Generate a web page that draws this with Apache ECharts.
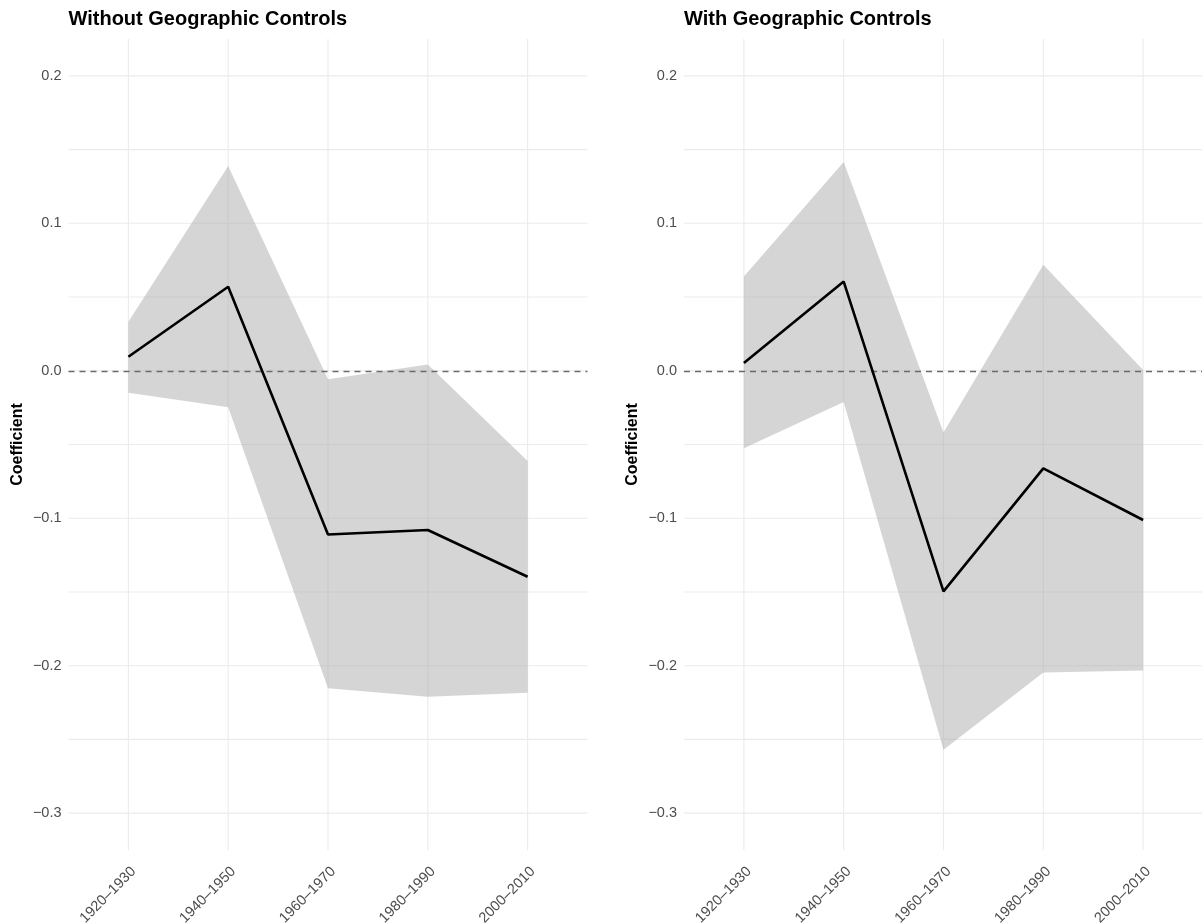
<!DOCTYPE html>
<html>
<head>
<meta charset="utf-8">
<script src="https://cdn.jsdelivr.net/npm/echarts@6/dist/echarts.min.js"></script>
<style>
  html, body { margin: 0; padding: 0; background: #fff; }
  #canvas { width: 1202px; height: 923px; }
</style>
</head>
<body>
<div id="canvas"></div>
<script>
const periods = ["1920–1930", "1940–1950", "1960–1970", "1980–1990", "2000–2010"];

// Without geographic controls
const estNoGeo = [0.0095, 0.057, -0.111, -0.108, -0.1397];
const lowNoGeo = [-0.0149, -0.0248, -0.2153, -0.221, -0.2183];
const highNoGeo = [0.0332, 0.1388, -0.0058, 0.0043, -0.0612];

// With geographic controls
const estGeo = [0.0052, 0.0605, -0.1496, -0.0662, -0.1012];
const lowGeo = [-0.0526, -0.0212, -0.257, -0.2046, -0.2033];
const highGeo = [0.0639, 0.1415, -0.0418, 0.0719, 0.0005];

const yGridTicks = [-0.3, -0.25, -0.2, -0.15, -0.1, -0.05, 0, 0.05, 0.1, 0.15, 0.2];
const panelTitles = ["Without Geographic Controls", "With Geographic Controls"];

const font = "'Liberation Sans', Arial, Helvetica, sans-serif";
const gridColor = "#ebebeb";

const fmtY = (v) => {
  if (Math.abs(v * 10 - Math.round(v * 10)) > 1e-6) return "";
  const s = Math.abs(v).toFixed(1);
  return v < -1e-9 ? "\u2212" + s : s;
};

const panels = [
  { left: 68.5, est: estNoGeo, low: lowNoGeo, high: highNoGeo },
  { left: 684, est: estGeo, low: lowGeo, high: highGeo }
];

const myChart = window.echarts.init(document.querySelector("#canvas"), null, { renderer: "canvas" });

const option = {
  animation: false,
  backgroundColor: "#fff",
  title: panels.map((p, i) => ({
    text: panelTitles[i],
    left: p.left,
    top: 9,
    padding: 0,
    textStyle: { fontFamily: font, fontSize: 20, fontWeight: "bold", color: "#000" }
  })),
  grid: panels.map(p => ({
    left: p.left, width: 519, top: 39, height: 811,
    containLabel: false,
    outerBoundsMode: "none"
  })),
  xAxis: panels.map((p, i) => ({
    type: "value",
    gridIndex: i,
    min: -0.6,
    max: 4.6,
    axisLine: { show: false },
    axisTick: { show: false },
    splitLine: { show: false },
    axisLabel: {
      customValues: [0, 1, 2, 3, 4],
      formatter: (v) => periods[Math.round(v)] || "",
      rotate: 45,
      verticalAlign: "top",
      margin: 14,
      fontFamily: font,
      fontSize: 14.5,
      color: "#4d4d4d"
    }
  })),
  yAxis: panels.map((p, i) => ({
    type: "value",
    gridIndex: i,
    min: -0.325,
    max: 0.225,
    interval: 0.025,
    name: "Coefficient",
    nameLocation: "middle",
    nameRotate: 90,
    nameGap: 43,
    nameTextStyle: { fontFamily: font, fontSize: 16, fontWeight: "bold", color: "#000" },
    axisLine: { show: false },
    axisTick: { show: false },
    splitLine: { show: false },
    axisLabel: {
      formatter: fmtY,
      margin: 7,
      fontFamily: font,
      fontSize: 14.5,
      color: "#4d4d4d"
    }
  })),
  series: []
};

panels.forEach((p, i) => {
  // background grid lines
  option.series.push({
    type: "custom",
    xAxisIndex: i,
    yAxisIndex: i,
    z: 1,
    silent: true,
    data: [[0, 0]],
    renderItem: (params, api) => {
      const cs = params.coordSys;
      const children = [];
      yGridTicks.forEach(v => {
        const y = api.coord([0, v])[1];
        children.push({
          type: "line",
          shape: { x1: cs.x, y1: y, x2: cs.x + cs.width, y2: y },
          style: { stroke: gridColor, lineWidth: 1.1 }
        });
      });
      periods.forEach((c, k) => {
        const x = api.coord([k, 0])[0];
        children.push({
          type: "line",
          shape: { x1: x, y1: cs.y, x2: x, y2: cs.y + cs.height },
          style: { stroke: gridColor, lineWidth: 1.1 }
        });
      });
      return { type: "group", children };
    }
  });
  // confidence ribbon
  option.series.push({
    type: "custom",
    xAxisIndex: i,
    yAxisIndex: i,
    z: 2,
    silent: true,
    data: periods.map((c, k) => [k, p.low[k], p.high[k]]),
    encode: { x: 0, y: [1, 2] },
    renderItem: (params, api) => {
      if (params.dataIndex !== 0) return null;
      const pts = [];
      p.high.forEach((v, k) => pts.push(api.coord([k, v])));
      for (let k = p.low.length - 1; k >= 0; k--) pts.push(api.coord([k, p.low[k]]));
      return {
        type: "polygon",
        shape: { points: pts },
        style: { fill: "rgba(168,168,168,0.48)" }
      };
    }
  });
  // estimate line + zero reference
  option.series.push({
    type: "line",
    xAxisIndex: i,
    yAxisIndex: i,
    z: 4,
    silent: true,
    symbol: "none",
    data: p.est.map((v, k) => [k, v]),
    lineStyle: { color: "#000", width: 2.6 },
    markLine: {
      z: 3,
      silent: true,
      symbol: "none",
      label: { show: false },
      lineStyle: { color: "#6b6b6b", width: 1.3, type: [6, 5] },
      data: [{ yAxis: 0 }]
    }
  });
});

myChart.setOption(option);
window.addEventListener("resize", () => myChart.resize());
</script>
</body>
</html>
